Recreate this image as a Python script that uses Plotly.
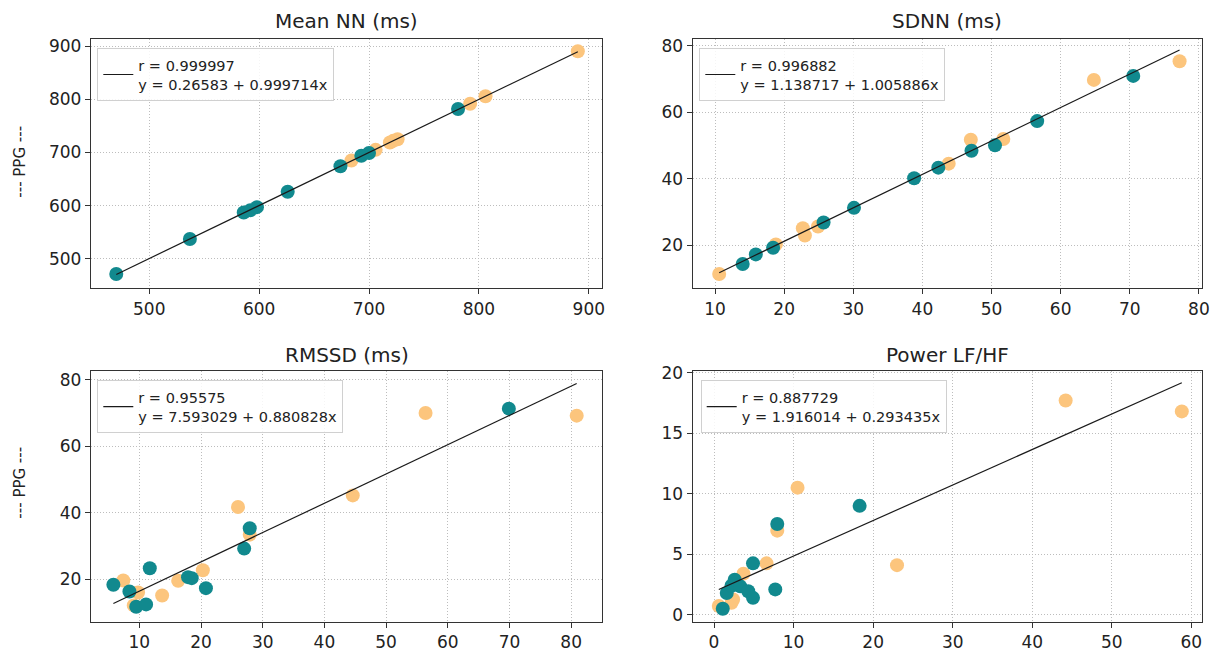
import plotly.graph_objects as go

# ---------------- data ----------------
titles = ["Mean NN (ms)", "SDNN (ms)", "RMSSD (ms)", "Power LF/HF"]

meannn_teal_x = [470, 537, 586, 592, 598, 626, 674, 693, 700, 781]
meannn_teal_y = [471, 537, 587, 591, 597, 626, 674, 694, 699, 782]
meannn_orange_x = [684, 706, 719, 722, 726, 792, 806, 890]
meannn_orange_y = [685, 705, 719, 722, 725, 792, 806, 891]

sdnn_teal_x = [14.0, 15.9, 18.4, 25.7, 30.1, 38.8, 42.3, 47.1, 50.5, 56.6, 70.5]
sdnn_teal_y = [14.4, 17.3, 19.3, 26.9, 31.3, 40.2, 43.4, 48.5, 50.1, 57.4, 71.0]
sdnn_orange_x = [10.6, 18.8, 22.7, 23.0, 24.9, 43.8, 47.0, 51.7, 64.8, 77.2]
sdnn_orange_y = [11.4, 20.3, 25.2, 23.0, 25.7, 44.6, 51.8, 52.0, 69.8, 75.4]

rmssd_teal_x = [5.8, 8.4, 9.5, 11.1, 11.7, 17.9, 18.5, 20.8, 27.0, 27.9, 69.9]
rmssd_teal_y = [18.3, 16.3, 11.7, 12.4, 23.3, 20.6, 20.3, 17.3, 29.2, 35.3, 71.3]
rmssd_orange_x = [7.4, 9.1, 9.8, 13.7, 16.3, 20.3, 26.0, 27.9, 44.6, 56.4, 80.9]
rmssd_orange_y = [19.6, 12.1, 16.0, 15.1, 19.5, 22.7, 41.7, 33.4, 45.2, 70.0, 69.2]

lfhf_teal_x = [1.1, 1.6, 2.2, 2.6, 3.3, 4.3, 4.9, 4.9, 7.7, 7.95, 18.3]
lfhf_teal_y = [0.5, 1.8, 2.4, 2.9, 2.35, 1.95, 1.4, 4.25, 2.1, 7.5, 9.0]
lfhf_orange_x = [0.6, 2.2, 2.4, 3.7, 6.6, 7.95, 10.5, 23.0, 44.2, 58.8]
lfhf_orange_y = [0.73, 1.0, 1.27, 3.4, 4.25, 6.95, 10.5, 4.1, 17.7, 16.8]

fit_a = [0.26583, 1.138717, 7.593029, 1.916014]
fit_b = [0.999714, 1.005886, 0.880828, 0.293435]
fit_a_txt = ["0.26583", "1.138717", "7.593029", "1.916014"]
fit_b_txt = ["0.999714", "1.005886", "0.880828", "0.293435"]
fit_r_txt = ["0.999997", "0.996882", "0.95575", "0.887729"]

x_ticks = [[500, 600, 700, 800, 900], [10, 20, 30, 40, 50, 60, 70, 80],
           [10, 20, 30, 40, 50, 60, 70, 80], [0, 10, 20, 30, 40, 50, 60]]
y_ticks = [[500, 600, 700, 800, 900], [20, 40, 60, 80],
           [20, 40, 60, 80], [0, 5, 10, 15, 20]]
x_ranges = [[447, 912], [6.77, 80.4], [2.17, 85.0], [-2.68, 61.3]]
y_ranges = [[444, 914], [7.1, 82.1], [7.2, 82.5], [-0.57, 20.1]]

ylabel = "--- PPG ---"

# ---------------- styling ----------------
TEAL = "#11898e"
ORANGE = "#fcc57d"
W, H = 1231, 664
ML, MR, MT, MB = 91, 29, 39, 31
PW, PH = W - ML - MR, H - MT - MB

def px_x(p):
    return (p - ML) / PW

def px_y(p):
    return (H - MB - p) / PH

boxes = [(91, 602, 39, 293), (692.7, 1201.7, 39, 293),
         (91, 602, 377.7, 632.7), (692.7, 1201.7, 377.7, 632.7)]
legend_pos = [(97.3, 48.3), (699.3, 48.3), (97.3, 386.7), (700.7, 386.7)]

panels = [
    (meannn_teal_x, meannn_teal_y, meannn_orange_x, meannn_orange_y),
    (sdnn_teal_x, sdnn_teal_y, sdnn_orange_x, sdnn_orange_y),
    (rmssd_teal_x, rmssd_teal_y, rmssd_orange_x, rmssd_orange_y),
    (lfhf_teal_x, lfhf_teal_y, lfhf_orange_x, lfhf_orange_y),
]

fig = go.Figure()
FONT = "DejaVu Sans"
annotations = []
layout = dict(
    width=W, height=H,
    margin=dict(l=ML, r=MR, t=MT, b=MB, pad=0),
    paper_bgcolor="white", plot_bgcolor="white",
    font=dict(family=FONT, color="#222222"),
    showlegend=True,
)

for i, (tx, ty, ox, oy) in enumerate(panels):
    k = "" if i == 0 else str(i + 1)
    xa, ya = "x" + k, "y" + k
    leg = "legend" + k
    fig.add_trace(go.Scatter(x=ox, y=oy, mode="markers", xaxis=xa, yaxis=ya,
                             marker=dict(color=ORANGE, size=14, line=dict(width=0)),
                             showlegend=False, hoverinfo="skip"))
    fig.add_trace(go.Scatter(x=tx, y=ty, mode="markers", xaxis=xa, yaxis=ya,
                             marker=dict(color=TEAL, size=14, line=dict(width=0)),
                             showlegend=False, hoverinfo="skip"))
    allx = list(tx) + list(ox)
    lx = [min(allx), max(allx)]
    ly = [fit_a[i] + fit_b[i] * v for v in lx]
    fig.add_trace(go.Scatter(x=lx, y=ly, mode="lines", xaxis=xa, yaxis=ya,
                             line=dict(color="#1a1a1a", width=1.2),
                             name=f"r = {fit_r_txt[i]}<br>y = {fit_a_txt[i]} + {fit_b_txt[i]}x",
                             legend=leg, showlegend=True, hoverinfo="skip"))
    x0, x1, y0, y1 = boxes[i]
    axis_common = dict(
        showline=True, linecolor="#333333", linewidth=1.3, mirror=True,
        ticks="outside", ticklen=5, tickwidth=1, tickcolor="#333333",
        showgrid=True, gridcolor="#bdbdbd", griddash="1px,2px", gridwidth=1,
        zeroline=False, tickfont=dict(size=17, family=FONT, color="#222222"),
    )
    layout["xaxis" + k] = dict(axis_common, domain=[px_x(x0), px_x(x1)],
                               range=x_ranges[i], tickmode="array",
                               tickvals=x_ticks[i], anchor=ya)
    layout["yaxis" + k] = dict(axis_common, domain=[px_y(y1), px_y(y0)],
                               range=y_ranges[i], tickmode="array",
                               tickvals=y_ticks[i], anchor=xa)
    lxp, lyp = legend_pos[i]
    layout[leg] = dict(x=px_x(lxp), y=px_y(lyp), xanchor="left", yanchor="top",
                       bgcolor="rgba(255,255,255,0.85)", bordercolor="#d0d0d0",
                       borderwidth=1, valign="middle",
                       font=dict(size=14.5, family=FONT, color="#222222"))
    annotations.append(dict(text=titles[i], xref="paper", yref="paper",
                            x=(px_x(x0) + px_x(x1)) / 2,
                            y=px_y(21 if i < 2 else 361),
                            xanchor="center", yanchor="middle", showarrow=False,
                            font=dict(size=20, family=FONT, color="#222222")))

annotations.append(dict(text=ylabel, xref="paper", yref="paper", x=px_x(20), y=px_y(164),
                        textangle=-90, showarrow=False, xanchor="center", yanchor="middle",
                        font=dict(size=15, family=FONT, color="#222222")))
annotations.append(dict(text=ylabel, xref="paper", yref="paper", x=px_x(20), y=px_y(491),
                        textangle=-90, showarrow=False, xanchor="center", yanchor="middle",
                        font=dict(size=15, family=FONT, color="#222222")))
layout["annotations"] = annotations

fig.update_layout(**layout)
fig.write_html("out.html")
